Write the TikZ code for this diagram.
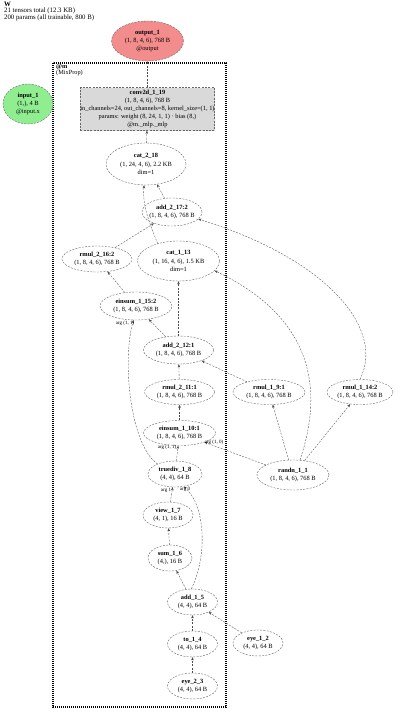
\documentclass[tikz,border=0pt]{standalone}
\usepackage{fontspec}
\setmainfont{Liberation Serif}
\usetikzlibrary{shapes.geometric,arrows.meta}
\definecolor{outfill}{RGB}{243,140,140}
\definecolor{infill}{RGB}{144,238,144}
\definecolor{convfill}{RGB}{217,217,217}
\tikzset{
  tn/.style 2 args={ellipse, draw=black!60, dash pattern=on 2pt off 1.3pt, line width=0.4pt,
    minimum width=#1, minimum height=#2, inner sep=0pt},
  txt/.style={align=center, inner sep=0pt, font=\fontsize{6.4}{8.3}\selectfont},
  edge/.style={draw=black!70, dash pattern=on 2pt off 1.3pt, line width=0.35pt,
    -{Stealth[length=3.2pt,width=2.6pt]}},
  elbl/.style={font=\fontsize{5}{5}\selectfont, inner sep=0pt},
  cluster/.style={draw=black, line width=2.2pt, dash pattern=on 1.1pt off 0.9pt},
}
\begin{document}
\begin{tikzpicture}[x=1pt, y=-1pt]
\fill[white] (0,0) rectangle (400,712);
\useasboundingbox (0,0) rectangle (400,712);

% header
\node[anchor=north west, align=left, inner sep=0pt, font=\fontsize{6.8}{5.8}\selectfont] (hdr) at (4,2)
  {\textbf{W}\\21 tensors total (12.3 KB)\\200 params (all trainable, 800 B)};

% cluster
\draw[cluster] (53,63) rectangle (226,707);
\node[anchor=north west, align=left, inner sep=0pt, font=\fontsize{6.3}{5.8}\selectfont] (clbl) at (56,64.5)
  {\textbf{@m}\\(MixProp)};

% nodes
\node[tn={72pt}{40pt}, fill=outfill, label={[txt]center:{\textbf{output\_1}\\(1, 8, 4, 6), 768 B\\@output}}] (out) at (147.5,41) {};
\node[tn={50pt}{40pt}, fill=infill, label={[txt]center:{\textbf{input\_1}\\(1,), 4 B\\@input.x}}] (inp) at (28,104) {};

\node[rectangle, draw=black!60, dash pattern=on 2pt off 1.3pt, line width=0.4pt, fill=convfill,
  minimum width=132pt, minimum height=43pt, inner sep=0pt, align=center,
  font=\fontsize{6.4}{7.8}\selectfont] (conv) at (147.5,109)
  {\textbf{conv2d\_1\_19}\\(1, 8, 4, 6), 768 B\\in\_channels=24, out\_channels=8, kernel\_size=(1, 1)\\params: weight (8, 24, 1, 1) · bias (8,)\\@m.\_mlp.\_mlp};

\node[tn={80pt}{42pt}, label={[txt]center:{\textbf{cat\_2\_18}\\(1, 24, 4, 6), 2.2 KB\\dim=1}}] (c18) at (146,164) {};
\node[tn={60pt}{28pt}, label={[txt]center:{\textbf{add\_2\_17:2}\\(1, 8, 4, 6), 768 B}}] (a17) at (172,212) {};
\node[tn={70pt}{26pt}, label={[txt]center:{\textbf{rmul\_2\_16:2}\\(1, 8, 4, 6), 768 B}}] (r16) at (97,259) {};
\node[tn={82pt}{40pt}, label={[txt]center:{\textbf{cat\_1\_13}\\(1, 16, 4, 6), 1.5 KB\\dim=1}}] (c13) at (178.5,261) {};
\node[tn={72pt}{28pt}, label={[txt]center:{\textbf{einsum\_1\_15:2}\\(1, 8, 4, 6), 768 B}}] (e15) at (136,306) {};
\node[tn={70pt}{28pt}, label={[txt]center:{\textbf{add\_2\_12:1}\\(1, 8, 4, 6), 768 B}}] (a12) at (178.5,350) {};
\node[tn={70pt}{25pt}, label={[txt]center:{\textbf{rmul\_2\_11:1}\\(1, 8, 4, 6), 768 B}}] (r11) at (179.5,392) {};
\node[tn={72pt}{25pt}, label={[txt]center:{\textbf{rmul\_1\_9:1}\\(1, 8, 4, 6), 768 B}}] (r9) at (269,392) {};
\node[tn={66pt}{25pt}, label={[txt]center:{\textbf{rmul\_1\_14:2}\\(1, 8, 4, 6), 768 B}}] (r14) at (360,392) {};
\node[tn={72pt}{25pt}, label={[txt]center:{\textbf{einsum\_1\_10:1}\\(1, 8, 4, 6), 768 B}}] (e10) at (179.5,433) {};
\node[tn={72pt}{30pt}, label={[txt]center:{\textbf{randn\_1\_1}\\(1, 8, 4, 6), 768 B}}] (rn) at (293,475) {};
\node[tn={54pt}{26pt}, label={[txt]center:{\textbf{truediv\_1\_8}\\(4, 4), 64 B}}] (td) at (175,474) {};
\node[tn={50pt}{26pt}, label={[txt]center:{\textbf{view\_1\_7}\\(4, 1), 16 B}}] (v7) at (168,515) {};
\node[tn={44pt}{26pt}, label={[txt]center:{\textbf{sum\_1\_6}\\(4,), 16 B}}] (s6) at (170,558) {};
\node[tn={50pt}{26pt}, label={[txt]center:{\textbf{add\_1\_5}\\(4, 4), 64 B}}] (a5) at (192.5,602) {};
\node[tn={50pt}{26pt}, label={[txt]center:{\textbf{to\_1\_4}\\(4, 4), 64 B}}] (t4) at (192.5,644) {};
\node[tn={50pt}{26pt}, label={[txt]center:{\textbf{eye\_2\_3}\\(4, 4), 64 B}}] (e3) at (192.5,686) {};
\node[tn={50pt}{26pt}, label={[txt]center:{\textbf{eye\_1\_2}\\(4, 4), 64 B}}] (e2) at (258,643) {};

% edges
\draw[edge] (conv) -- (out);
\draw[edge] (c18) -- (conv);
\draw[edge] (a17) -- (c18);
\draw[edge] (c13.140) .. controls (150,225) and (142,205) .. (c18.-95);
\draw[edge] (r16) -- (a17);
\draw[edge] (r14.north) .. controls (385,330) and (330,260) .. (a17.-15);
\draw[edge] (e15) -- (r16);
\draw[edge] (a12) -- (e15);
\draw[edge] (a12) -- (c13);
\draw[edge] (rn.65) .. controls (322,395) and (318,320) .. (c13.-15);
\draw[edge] (r9) -- (a12);
\draw[edge] (r11) -- (a12);
\draw[edge] (e10) -- (r11);
\draw[edge] (rn) -- (e10);
\draw[edge] (rn) -- (r9);
\draw[edge] (rn) -- (r14);
\draw[edge] (td) -- (e10);
\draw[edge] (td.150) .. controls (130,445) and (122,360) .. (e15.-100);
\draw[edge] (v7) -- (td);
\draw[edge] (a5.95) .. controls (208,555) and (205,505) .. (td.-55);
\draw[edge] (s6) -- (v7);
\draw[edge] (a5) -- (s6);
\draw[edge] (t4) -- (a5);
\draw[edge] (e2) -- (a5);
\draw[edge] (e3) -- (t4);

% edge labels
\node[elbl] (l1) at (125,323) {arg (1, 1)};
\node[elbl] (l2) at (167,447) {arg (1, 1)};
\node[elbl] (l3) at (214,442) {arg (1, 0)};
\node[elbl] (l4) at (166,490) {arg 1};
\node[elbl] (l5) at (185,489) {arg 0};
\end{tikzpicture}
\end{document}
